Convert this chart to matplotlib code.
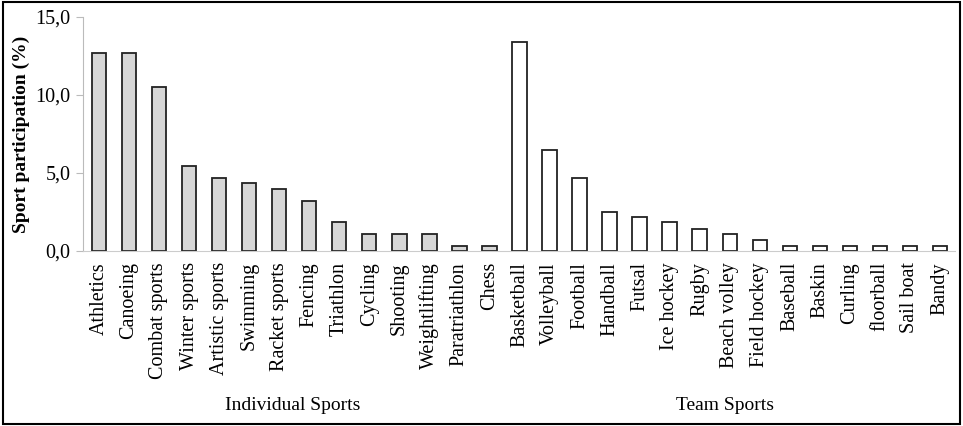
import matplotlib.pyplot as plt
from matplotlib.patches import Rectangle
from matplotlib.ticker import FuncFormatter

# individual sports
indiv_names = ['Athletics', 'Canoeing', 'Combat sports', 'Winter sports', 'Artistic sports',
               'Swimming', 'Racket sports', 'Fencing', 'Triathlon', 'Cycling', 'Shooting',
               'Weightlifting', 'Paratriathlon', 'Chess']
indiv_vals = [12.67, 12.67, 10.53, 5.45, 4.70, 4.38, 3.95, 3.21, 1.84, 1.07, 1.07, 1.07, 0.34, 0.34]

# team sports
team_names = ['Basketball', 'Volleyball', 'Football', 'Handball', 'Futsal', 'Ice hockey', 'Rugby',
              'Beach volley', 'Field hockey', 'Baseball', 'Baskin', 'Curling', 'floorball',
              'Sail boat', 'Bandy']
team_vals = [13.42, 6.50, 4.70, 2.48, 2.16, 1.86, 1.41, 1.07, 0.68, 0.34, 0.34, 0.34, 0.34, 0.34, 0.34]

plt.rcParams['font.family'] = ['Liberation Serif', 'DejaVu Serif']

fig = plt.figure(figsize=(9.63, 4.26), dpi=100)
ax = fig.add_axes([83 / 963, 175 / 426, 872 / 963, 234 / 426])

n1 = len(indiv_names)
x1 = list(range(n1))
x2 = list(range(n1, n1 + len(team_names)))

ax.bar(x1, indiv_vals, width=0.48, color='#d6d6d6', edgecolor='#222222', linewidth=1.3)
ax.bar(x2, team_vals, width=0.48, color='white', edgecolor='#222222', linewidth=1.3)

ax.set_xlim(-0.53, 28.5)
ax.set_ylim(0, 15)
ax.set_yticks([0, 5, 10, 15])
ax.yaxis.set_major_formatter(FuncFormatter(lambda v, p: f'{v:.1f}'.replace('.', ',')))
ax.set_xticks(x1 + x2)
ax.set_xticklabels(indiv_names + team_names, rotation=90, fontsize=14.5)
ax.tick_params(axis='x', length=0, pad=8)
ax.tick_params(axis='y', length=5, color='#bbbbbb', labelsize=14.5, pad=4)

for s in ['top', 'right']:
    ax.spines[s].set_visible(False)
ax.spines['left'].set_color('#bbbbbb')
ax.spines['bottom'].set_color('#cccccc')

ax.set_ylabel('Sport participation (%)', fontsize=14, fontweight='bold', labelpad=4)

fig.text(293 / 963, 1 - 406 / 426, 'Individual Sports', ha='center', va='center', fontsize=14)
fig.text(725 / 963, 1 - 406 / 426, 'Team Sports', ha='center', va='center', fontsize=14)

# frame around the whole figure
fig.patches.append(Rectangle((0.003, 0.005), 0.994, 0.99, transform=fig.transFigure,
                             fill=False, edgecolor='black', linewidth=1.5))

fig.savefig('out.png', dpi=100)
